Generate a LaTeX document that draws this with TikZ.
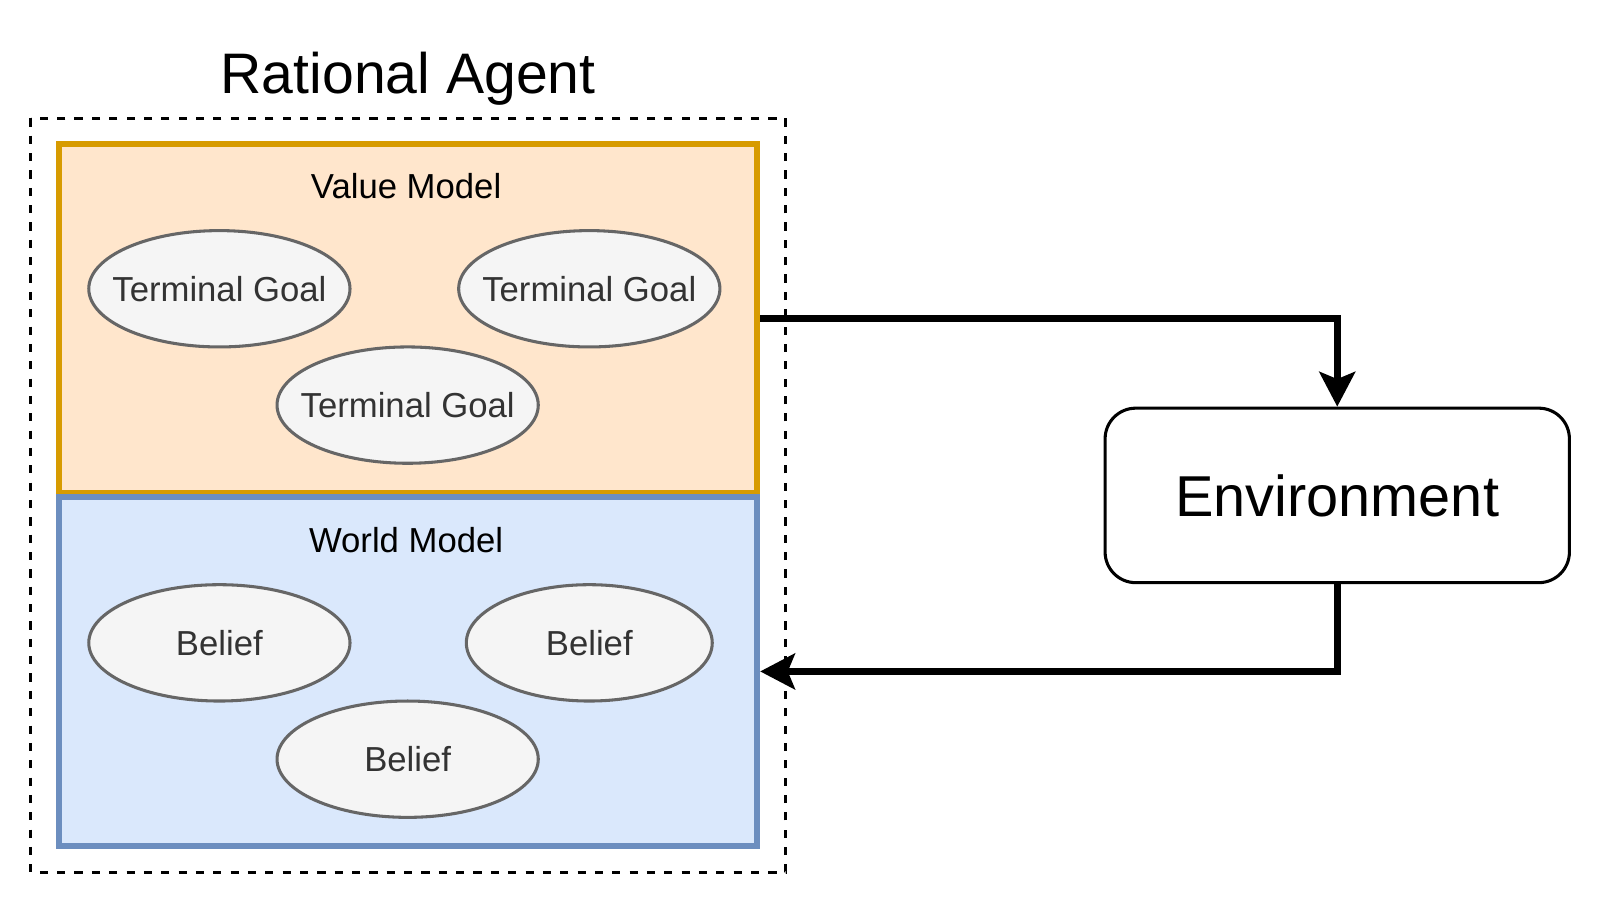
\documentclass[tikz,border=0pt]{standalone}
\usepackage{fontspec}
\setmainfont{Liberation Sans}
\usetikzlibrary{shapes.geometric,arrows.meta}
\definecolor{vfill}{HTML}{FFE6CC}
\definecolor{vdraw}{HTML}{D79B00}
\definecolor{wfill}{HTML}{DAE8FC}
\definecolor{wdraw}{HTML}{6C8EBF}
\definecolor{efill}{HTML}{F5F5F5}
\definecolor{edraw}{HTML}{666666}
\definecolor{etext}{HTML}{333333}
\tikzset{
  modelbox/.style={draw, line width=6pt, minimum width=684pt, minimum height=342pt, inner sep=0pt},
  goal/.style={ellipse, draw=edraw, fill=efill, line width=3pt, text=etext, minimum height=114pt, inner sep=0pt, font=\fontsize{34}{40}\selectfont},
  lbl/.style={font=\fontsize{34}{40}\selectfont, inner sep=0pt},
  flow/.style={line width=6.5pt, -{Stealth[length=34pt, width=35pt, inset=7pt]}}
}
\begin{document}
\begin{tikzpicture}[x=1pt,y=-1pt]
\useasboundingbox (0,0) rectangle (1568,888);
\node[font=\fontsize{56}{66}\selectfont, inner sep=0pt] (title) at (400,77) {Rational Agent};
\draw[line width=3pt, dash pattern=on 8pt off 9pt] (30,116) rectangle (770,855);
\node[modelbox, draw=vdraw, fill=vfill] (vm) at (400,312) {};
\node[modelbox, draw=wdraw, fill=wfill] (wm) at (400,658) {};
\node[lbl] (vml) at (398,182) {Value Model};
\node[lbl] (wml) at (398,529) {World Model};
\node[goal, minimum width=256pt] (g1) at (215,283) {\makebox[0pt]{Terminal Goal}};
\node[goal, minimum width=256pt] (g2) at (577.5,283) {\makebox[0pt]{Terminal Goal}};
\node[goal, minimum width=256pt] (g3) at (399.5,397) {\makebox[0pt]{Terminal Goal}};
\node[goal, minimum width=256pt] (b1) at (215,630) {\makebox[0pt]{Belief}};
\node[goal, minimum width=241pt] (b2) at (577.5,630) {\makebox[0pt]{Belief}};
\node[goal, minimum width=256pt] (b3) at (399.5,744) {\makebox[0pt]{Belief}};
\node[draw, line width=3pt, rounded corners=30pt, minimum width=455pt, minimum height=171pt, font=\fontsize{56.5}{66}\selectfont] (env) at (1310.5,485.5) {Environment};
\draw[flow] (vm.east) -| (env.north);
\draw[flow] (env.south) |- (wm.east);
\end{tikzpicture}
\end{document}
